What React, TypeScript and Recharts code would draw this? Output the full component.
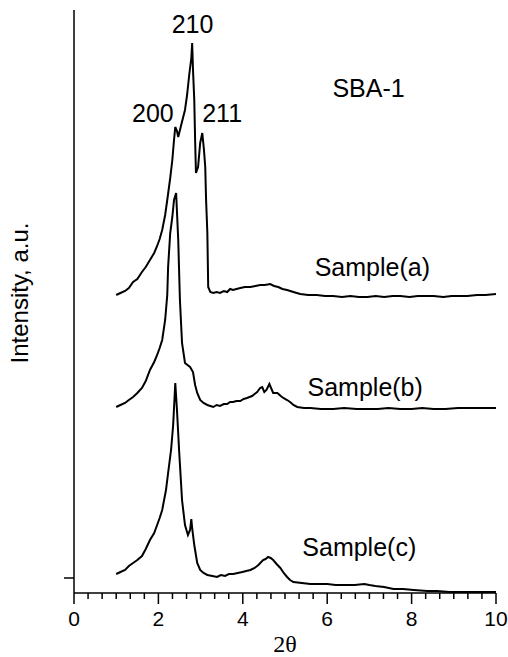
import React from 'react';
import { LineChart, Line, XAxis, YAxis, ReferenceDot, Label } from 'recharts';

// 2-theta / intensity pairs (intensity in arbitrary units)
const sampleA = [
  [1.0, 298], [1.1, 300], [1.21, 302], [1.3, 305], [1.4, 311], [1.5, 314], [1.61, 321], [1.7, 326],
  [1.8, 333], [1.9, 340], [1.97, 347], [2.03, 354], [2.09, 363], [2.16, 378], [2.21, 393], [2.28, 415],
  [2.33, 433], [2.37, 453], [2.4, 466], [2.44, 462], [2.47, 456], [2.54, 468], [2.63, 483], [2.68, 498],
  [2.73, 518], [2.78, 535], [2.8, 550], [2.82, 523], [2.85, 493], [2.87, 453], [2.89, 420], [2.94, 426],
  [2.99, 450], [3.04, 460], [3.08, 443], [3.11, 426], [3.13, 393], [3.16, 360], [3.18, 306], [3.23, 301],
  [3.3, 300], [3.38, 301], [3.46, 300], [3.55, 302], [3.63, 301], [3.7, 304], [3.77, 303], [3.85, 304],
  [3.94, 305], [4.05, 306], [4.18, 306], [4.3, 307], [4.41, 308], [4.52, 308], [4.65, 309], [4.74, 307],
  [4.84, 306], [4.94, 304], [5.05, 303], [5.2, 301], [5.36, 299], [5.55, 298], [5.75, 298], [5.95, 297],
  [6.14, 297], [6.35, 296], [6.55, 297], [6.75, 296], [6.95, 296], [7.15, 297], [7.35, 296], [7.55, 297],
  [7.73, 297], [7.95, 296], [8.15, 297], [8.35, 297], [8.52, 297], [8.75, 296], [8.95, 297], [9.15, 297],
  [9.32, 297], [9.55, 298], [9.75, 298], [10.0, 299],
];

const sampleB = [
  [1.0, 186], [1.1, 188], [1.21, 190], [1.3, 193], [1.4, 196], [1.5, 200], [1.61, 205], [1.7, 212],
  [1.8, 223], [1.9, 231], [1.97, 238], [2.03, 245], [2.09, 253], [2.16, 273], [2.21, 298], [2.23, 326],
  [2.28, 360], [2.33, 376], [2.37, 393], [2.42, 400], [2.47, 353], [2.51, 293], [2.56, 250], [2.63, 230],
  [2.69, 228], [2.75, 226], [2.82, 221], [2.87, 208], [2.92, 200], [2.99, 193], [3.07, 190], [3.16, 188],
  [3.23, 187], [3.3, 186], [3.38, 188], [3.46, 187], [3.55, 189], [3.63, 189], [3.7, 191], [3.77, 191],
  [3.85, 192], [3.94, 192], [4.02, 194], [4.1, 195], [4.16, 196], [4.22, 197], [4.28, 199], [4.34, 201],
  [4.41, 205], [4.46, 206], [4.51, 201], [4.56, 203], [4.63, 209], [4.68, 204], [4.72, 200], [4.82, 200],
  [4.9, 197], [4.96, 195], [5.05, 193], [5.12, 191], [5.2, 188], [5.29, 186], [5.45, 185], [5.6, 185],
  [5.85, 184], [6.14, 184], [6.4, 185], [6.7, 184], [6.95, 184], [7.2, 184], [7.45, 185], [7.73, 184],
  [8.0, 184], [8.25, 185], [8.52, 184], [8.8, 184], [9.1, 185], [9.39, 185], [9.7, 185], [10.0, 185],
];

const sampleC = [
  [1.0, 19], [1.1, 21], [1.21, 23], [1.3, 27], [1.4, 30], [1.5, 33], [1.61, 37], [1.7, 44],
  [1.8, 53], [1.9, 60], [1.97, 68], [2.03, 75], [2.09, 83], [2.18, 103], [2.23, 120], [2.3, 143],
  [2.35, 168], [2.4, 210], [2.44, 183], [2.49, 143], [2.56, 93], [2.63, 68], [2.7, 58], [2.75, 63],
  [2.78, 74], [2.8, 65], [2.85, 48], [2.92, 30], [2.99, 23], [3.07, 20], [3.16, 18], [3.28, 17],
  [3.39, 16], [3.48, 18], [3.58, 17], [3.67, 19], [3.77, 19], [3.88, 20], [3.99, 21], [4.08, 22],
  [4.18, 23], [4.28, 25], [4.37, 28], [4.48, 33], [4.54, 34], [4.6, 36], [4.66, 35], [4.72, 33],
  [4.8, 29], [4.89, 25], [4.97, 20], [5.05, 16], [5.12, 13], [5.2, 11], [5.4, 10], [5.6, 9],
  [5.8, 9], [6.0, 9], [6.2, 8], [6.43, 8], [6.65, 8], [6.88, 9], [7.0, 8], [7.14, 7], [7.35, 6],
  [7.57, 4], [7.8, 4], [8.05, 3], [8.37, 2], [8.6, 2], [8.9, 1], [9.16, 1], [9.5, 1], [9.75, 1], [10.0, 1],
];

const xMajorTicks = [0, 2, 4, 6, 8, 10];
const xAllTicks = Array.from({ length: 31 }, (_, i) => i / 3);
const yTicks = [15];

const annotations = [
  { text: '210', x: 2.81, y: 569 },
  { text: '200', x: 1.87, y: 480 },
  { text: '211', x: 3.51, y: 480 },
  { text: 'SBA-1', x: 6.98, y: 505 },
  { text: 'Sample(a)', x: 7.07, y: 326 },
  { text: 'Sample(b)', x: 6.9, y: 206 },
  { text: 'Sample(c)', x: 6.76, y: 46 },
];

const toRows = (pts: number[][]) => pts.map(([x, y]) => ({ x, y }));

const sans = 'Arial, "Liberation Sans", Helvetica, sans-serif';
const serif = '"Times New Roman", "Liberation Serif", serif';

const XTick = (props: any) => {
  const { x, y, payload } = props;
  const v = payload.value;
  const major = xMajorTicks.some((m) => Math.abs(m - v) < 1e-6);
  return (
    <g>
      <line x1={x} x2={x} y1={y} y2={y + (major ? 11 : 6)} stroke="#000" strokeWidth={1.5} />
      {major && (
        <text x={x} y={y + 25} textAnchor="middle" dominantBaseline="central" fontSize={21} fontFamily={sans} fill="#000">
          {Math.round(v)}
        </text>
      )}
    </g>
  );
};

const YTick = (props: any) => {
  const { x, y } = props;
  // x here is the label anchor (left end of the tick line)
  return <line x1={x} x2={x + 10} y1={y} y2={y} stroke="#000" strokeWidth={1.5} />;
};

const AnnoShape = (text: string) => (props: any) => (
  <text x={props.cx} y={props.cy} textAnchor="middle" dominantBaseline="central" fontSize={25} fontFamily={sans} fill="#000">
    {text}
  </text>
);

export default function App() {
  return (
    <div style={{ position: 'absolute', left: 0, top: 0 }}>
      <LineChart width={508} height={657} margin={{ top: 10, right: 12, bottom: 14, left: 54 }}>
        <XAxis
          dataKey="x"
          type="number"
          domain={[0, 10]}
          ticks={xAllTicks}
          interval={0}
          tickLine={false}
          tickSize={0}
          tickMargin={0}
          tick={<XTick />}
          height={50}
          axisLine={{ stroke: '#000', strokeWidth: 1.5 }}
        >
          <Label
            content={({ viewBox }: any) => (
              <text
                x={viewBox.x + viewBox.width / 2}
                y={viewBox.y + 51}
                textAnchor="middle"
                dominantBaseline="central"
                fontSize={24}
                fontFamily={serif}
                fill="#000"
              >
                2θ
              </text>
            )}
          />
        </XAxis>
        <YAxis
          type="number"
          domain={[0, 583]}
          ticks={yTicks}
          tick={<YTick />}
          tickLine={false}
          tickSize={10}
          tickMargin={0}
          width={20}
          allowDataOverflow
          axisLine={{ stroke: '#000', strokeWidth: 1.5 }}
        >
          <Label
            content={({ viewBox }: any) => {
              const cx = viewBox.x - 35;
              const cy = viewBox.y + 283;
              return (
                <text
                  x={cx}
                  y={cy}
                  transform={`rotate(-90, ${cx}, ${cy})`}
                  textAnchor="middle"
                  dominantBaseline="central"
                  fontSize={24}
                  fontFamily={sans}
                  fill="#000"
                >
                  Intensity, a.u.
                </text>
              );
            }}
          />
        </YAxis>
        <Line data={toRows(sampleA)} dataKey="y" type="linear" stroke="#000" strokeWidth={2} dot={false} isAnimationActive={false} />
        <Line data={toRows(sampleB)} dataKey="y" type="linear" stroke="#000" strokeWidth={2} dot={false} isAnimationActive={false} />
        <Line data={toRows(sampleC)} dataKey="y" type="linear" stroke="#000" strokeWidth={2} dot={false} isAnimationActive={false} />
        {annotations.map((a) => (
          <ReferenceDot key={a.text} x={a.x} y={a.y} r={1} ifOverflow="visible" shape={AnnoShape(a.text)} />
        ))}
      </LineChart>
    </div>
  );
}
